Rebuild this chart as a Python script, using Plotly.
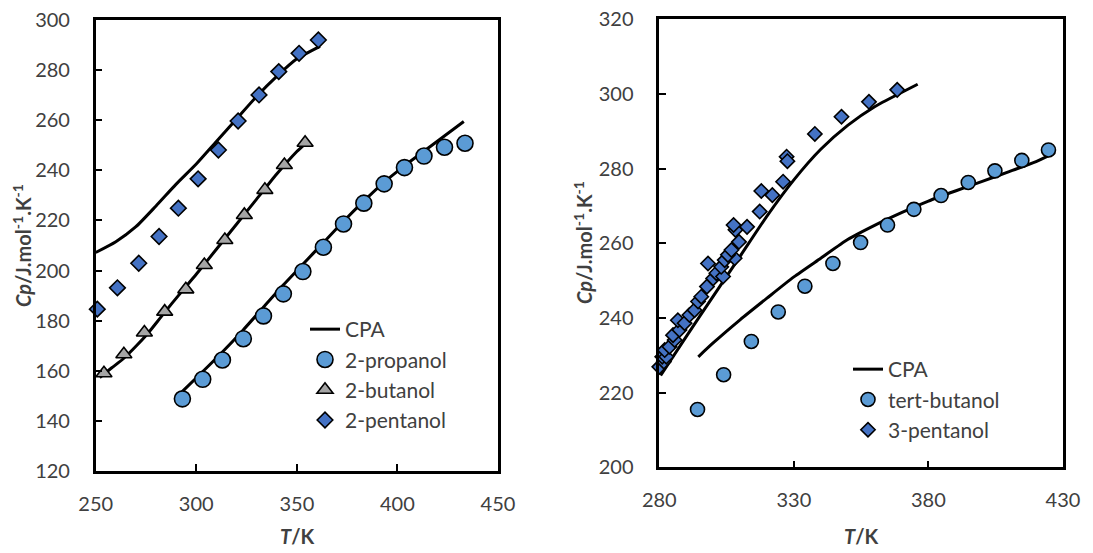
import plotly.graph_objects as go

# ---------------- Left panel data ----------------
T_2prop = [293.1, 303.2, 313.0, 323.4, 333.4, 343.3, 353.0, 363.2, 373.2, 383.3, 393.4, 403.5, 413.2, 423.4, 433.6]
Cp_2prop = [148.8, 156.6, 164.3, 172.8, 181.9, 190.7, 199.6, 209.3, 218.6, 226.9, 234.6, 241.1, 245.7, 249.2, 250.8]
T_2prop_cpa = [293, 303, 313, 323, 333, 343, 353, 363, 373, 383, 393, 403, 413, 423, 433]
Cp_2prop_cpa = [151.7, 159.5, 167.5, 176.0, 185.0, 194.0, 202.5, 211.0, 219.5, 227.5, 235.0, 241.5, 247.5, 253.5, 259.5]

T_2but = [254.1, 264.0, 274.2, 284.3, 294.8, 304.0, 314.2, 323.9, 334.1, 343.8, 354.1]
Cp_2but = [159.0, 166.6, 175.3, 183.6, 192.5, 202.2, 212.2, 222.2, 232.2, 242.1, 251.0]
T_2but_cpa = [252, 258, 264, 270, 276, 282, 288, 294, 300, 310, 320, 330, 340, 350, 354]
Cp_2but_cpa = [157.3, 161.2, 165.0, 169.8, 175.0, 181.0, 187.0, 192.8, 198.5, 208.5, 218.5, 228.5, 238.5, 247.5, 250.5]

T_2pent = [250.8, 260.8, 271.4, 281.5, 291.1, 300.9, 311.0, 320.8, 331.2, 341.0, 351.1, 360.7]
Cp_2pent = [184.6, 193.1, 202.9, 213.6, 224.9, 236.6, 248.1, 259.7, 270.1, 279.4, 286.7, 292.0]
T_2pent_cpa = [250, 260, 270, 280, 290, 300, 310, 320, 330, 340, 350, 361.5]
Cp_2pent_cpa = [207.2, 211.5, 217.5, 225.8, 234.5, 242.5, 251.5, 260.5, 269.5, 277.5, 284.5, 289.5]

# ---------------- Right panel data ----------------
T_tbut = [294.2, 303.9, 314.2, 324.2, 334.1, 344.5, 354.8, 364.8, 374.6, 384.7, 394.8, 404.7, 414.7, 424.6]
Cp_tbut = [215.5, 224.8, 233.7, 241.6, 248.5, 254.6, 260.2, 264.9, 269.1, 272.8, 276.3, 279.4, 282.2, 285.0]
T_tbut_cpa = [294.5, 300, 310, 320, 330, 340, 350, 360, 370, 380, 390, 400, 410, 420, 427]
Cp_tbut_cpa = [229.6, 233.3, 239.5, 245.3, 251.0, 256.0, 261.0, 264.8, 268.2, 271.3, 274.0, 276.6, 279.2, 281.9, 284.3]

T_3pent = [280.0, 281.7, 281.1, 282.6, 282.0, 283.8, 285.7, 285.1, 287.5, 286.9, 289.4, 291.2, 293.1,
           294.4, 295.6, 297.7, 300.0, 301.2, 303.7, 303.0, 298.1, 304.3, 308.0, 305.5, 306.8, 309.6,
           308.3, 307.6, 312.6, 317.3, 317.9, 322.0, 326.0, 327.3, 327.6, 337.8, 347.7, 357.9, 368.4]
Cp_3pent = [226.9, 228.3, 229.6, 229.6, 231.4, 232.3, 234.1, 235.4, 236.8, 239.4, 238.6, 240.8, 242.1,
            244.4, 245.7, 248.4, 250.6, 252.0, 251.1, 253.7, 254.6, 255.5, 256.0, 256.9, 258.2, 260.4,
            263.6, 264.9, 264.4, 268.5, 274.0, 272.9, 276.5, 283.2, 282.0, 289.3, 293.9, 297.9, 301.1]
T_3pent_cpa = [280.5, 290, 300, 310, 320, 330, 340, 350, 360, 370, 376]
Cp_3pent_cpa = [224.6, 235.0, 245.8, 256.5, 267.3, 277.0, 285.2, 291.6, 296.6, 300.4, 302.6]

FONT = "Lato"
TXT = "#404040"
C_CIRCLE = "#5B9BD5"
C_DIAMOND = "#4472C4"
C_TRI = "#A5A5A5"

fig = go.Figure()

def cpa(x, y, xa, ya, leg, show):
    fig.add_trace(go.Scatter(x=x, y=y, mode="lines", name="CPA", xaxis=xa, yaxis=ya,
                             line=dict(color="black", width=3, shape="spline", smoothing=0.6),
                             legend=leg, showlegend=show, cliponaxis=False))

def pts(x, y, xa, ya, leg, name, symbol, color, size):
    fig.add_trace(go.Scatter(x=x, y=y, mode="markers", name=name, xaxis=xa, yaxis=ya,
                             marker=dict(symbol=symbol, color=color, size=size,
                                         line=dict(color="black", width=1.6)),
                             legend=leg, cliponaxis=False))

# left panel
cpa(T_2prop_cpa, Cp_2prop_cpa, "x", "y", "legend", True)
cpa(T_2but_cpa, Cp_2but_cpa, "x", "y", "legend", False)
cpa(T_2pent_cpa, Cp_2pent_cpa, "x", "y", "legend", False)
pts(T_2prop, Cp_2prop, "x", "y", "legend", "2-propanol", "circle", C_CIRCLE, 16)
pts(T_2but, Cp_2but, "x", "y", "legend", "2-butanol", "triangle-up", C_TRI, 14)
pts(T_2pent, Cp_2pent, "x", "y", "legend", "2-pentanol", "diamond", C_DIAMOND, 12)

# right panel
cpa(T_tbut_cpa, Cp_tbut_cpa, "x2", "y2", "legend2", True)
cpa(T_3pent_cpa, Cp_3pent_cpa, "x2", "y2", "legend2", False)
pts(T_tbut, Cp_tbut, "x2", "y2", "legend2", "tert-butanol", "circle", C_CIRCLE, 14)
pts(T_3pent, Cp_3pent, "x2", "y2", "legend2", "3-pentanol", "diamond", C_DIAMOND, 11)

W, H = 1093, 553

def ax(domain, rng, dtick, anchor, standoff):
    return dict(domain=domain, range=rng, dtick=dtick, tick0=rng[0], anchor=anchor,
                automargin=False,
                showline=True, linecolor="black", linewidth=2.5, mirror=True,
                ticks="inside", ticklen=7, tickwidth=2, tickcolor="black",
                showgrid=False, zeroline=False, fixedrange=True,
                ticklabelstandoff=standoff,
                tickfont=dict(family=FONT, size=20, color=TXT))

L_x = [95.7 / W, 498 / W]
L_y = [1 - 471 / H, 1 - 20 / H]
R_x = [659.3 / W, 1063 / W]
R_y = [1 - 467.3 / H, 1 - 19.3 / H]

legfont = dict(family=FONT, size=21, color=TXT)
titlefont = dict(family=FONT, size=20, color=TXT)
ytitle = "<b><i>Cp</i>/J.mol<sup>-1</sup>.K<sup>-1</sup></b>"
xtitle = "<b><i>T</i>/K</b>"

def note(text, x, y, angle=0):
    return dict(text=text, textangle=angle, x=x / W, y=1 - y / H, xref="paper", yref="paper",
                xanchor="center", yanchor="middle", showarrow=False, font=titlefont)

fig.update_layout(
    width=W, height=H,
    margin=dict(l=0, r=0, t=0, b=0, autoexpand=False),
    paper_bgcolor="white", plot_bgcolor="white",
    xaxis=ax(L_x, [250, 450], 50, "y", 13),
    yaxis=ax(L_y, [120, 300], 20, "x", 19),
    xaxis2=ax(R_x, [280, 430], 50, "y2", 13),
    yaxis2=ax(R_y, [200, 320], 20, "x2", 19),
    legend=dict(x=305 / W, y=1 - 309 / H, xanchor="left", yanchor="top",
                font=legfont, bgcolor="rgba(0,0,0,0)", tracegroupgap=0,
                itemwidth=30),
    legend2=dict(x=848 / W, y=1 - 349 / H, xanchor="left", yanchor="top",
                 font=legfont, bgcolor="rgba(0,0,0,0)", tracegroupgap=0,
                 itemwidth=30),
    annotations=[
        note(ytitle, 22, 246, -90),
        note(ytitle, 583, 243, -90),
        note(xtitle, 297, 536),
        note(xtitle, 861, 536),
    ],
)

fig.write_html("out.html")
